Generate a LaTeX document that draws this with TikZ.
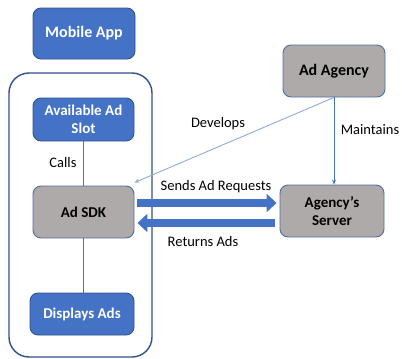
\documentclass[tikz,border=0pt]{standalone}
\usepackage{fontspec}
\setmainfont{Carlito}
\usetikzlibrary{arrows.meta}
\definecolor{bfill}{HTML}{4472C4}
\definecolor{bdraw}{HTML}{2F528F}
\definecolor{gfill}{HTML}{AEAAAA}
\definecolor{gdraw}{HTML}{4F6E9E}
\definecolor{lblue}{HTML}{8FAADC}
\tikzset{
  bluebox/.style={draw=bdraw, fill=bfill, line width=0.9pt, rounded corners=8pt, text=white, font=\bfseries\fontsize{15}{18}\selectfont, align=center, inner sep=0pt},
  graybox/.style={draw=gdraw, fill=gfill, line width=0.9pt, rounded corners=8pt, text=black, font=\bfseries\fontsize{15}{18}\selectfont, align=center, inner sep=0pt},
  lbl/.style={font=\fontsize{14.5}{17}\selectfont, text=black, inner sep=0pt},
  thinline/.style={draw=bfill, line width=0.6pt},
  blockarrow/.style={draw=bfill, line width=8pt, -{Triangle[width=18pt,length=10pt]}},
}
\begin{document}
\begin{tikzpicture}[x=1pt,y=-1pt]
\useasboundingbox (0,0) rectangle (402,359);
\draw[draw=bdraw, line width=1.4pt, rounded corners=20pt] (9,73) rectangle (152,357);
\node[bluebox, minimum width=102pt, minimum height=51pt, font=\bfseries\fontsize{16}{19}\selectfont] (app) at (84,33.5) {Mobile App};
\node[bluebox, minimum width=101pt, minimum height=43pt] (slot) at (83.5,119.5) {Available Ad\\Slot};
\node[graybox, minimum width=101pt, minimum height=52pt] (sdk) at (83.5,212) {Ad SDK};
\node[bluebox, minimum width=104pt, minimum height=42pt] (disp) at (82,314) {Displays Ads};
\node[graybox, minimum width=102pt, minimum height=52pt, font=\bfseries\fontsize{16}{19}\selectfont] (agency) at (334,71) {Ad Agency};
\node[graybox, minimum width=104pt, minimum height=52pt] (server) at (332,211) {Agency’s\\Server};
\draw[thinline] (slot.south -| 83.5,0) -- (sdk.north -| 83.5,0);
\draw[thinline] (sdk.south -| 83.5,0) -- (disp.north -| 83.5,0);
\draw[draw=lblue, line width=0.9pt, -{Stealth[length=5pt,width=4pt]}] (agency.south) -- ([shift={(0,-3)}]sdk.north east);
\draw[draw=bfill, line width=0.7pt, -{Stealth[length=5pt,width=4pt]}] (agency.south) -- (agency.south |- server.north);
\draw[blockarrow] ([shift={(3,-9)}]sdk.east) -- ([shift={(-3,-8)}]server.west);
\draw[blockarrow] ([shift={(-5,12)}]server.west) -- ([shift={(3,11)}]sdk.east);
\node[lbl] (calls) at (63,163) {Calls};
\node[lbl] (dev) at (218,124) {Develops};
\node[lbl] (main) at (370,130) {Maintains};
\node[lbl] (send) at (216,187) {Sends Ad Requests};
\node[lbl] (ret) at (203,242) {Returns Ads};
\end{tikzpicture}
\end{document}
